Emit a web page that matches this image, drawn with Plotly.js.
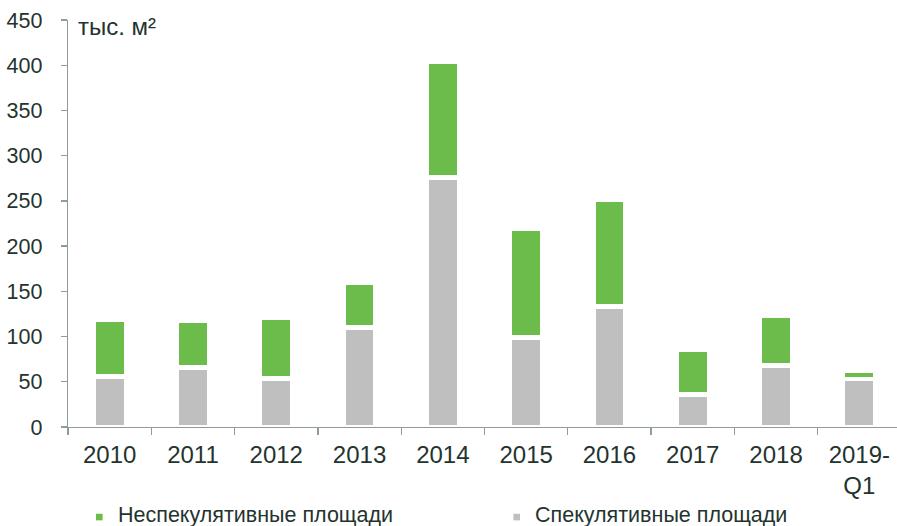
<!DOCTYPE html>
<html>
<head>
<meta charset="utf-8">
<script src="https://cdn.plot.ly/plotly-3.0.1.min.js"></script>
<style>
html, body { margin: 0; padding: 0; overflow: hidden; background: #fff; }
#chart { width: 897px; height: 526px; }
</style>
</head>
<body>
<div id="chart"></div>
<script>
// ---- data ----
var categories = ['2010', '2011', '2012', '2013', '2014', '2015', '2016', '2017', '2018', '2019-<br>Q1'];
var speculative = [55.7, 65.5, 53.7, 110.1, 275.9, 98.9, 133.3, 36.2, 67.9, 52.9];
var nonSpeculative = [63.4, 52.5, 67.2, 49.5, 127.9, 120.9, 117.8, 49.8, 55.7, 9.2];
var seriesNames = ['Неспекулятивные площади', 'Спекулятивные площади'];
var unitLabel = 'тыс. м²';
var yTicks = [0, 50, 100, 150, 200, 250, 300, 350, 400, 450];

// ---- style ----
var GREEN = '#6cbc4b';
var GRAY = '#bfbfbf';
var TEXT = '#24332e';
var AXIS = '#909c99';
var FONT = 'Liberation Sans, Arial, sans-serif';

var traces = [
  {
    type: 'bar', x: categories, y: speculative, name: seriesNames[1],
    marker: { color: GRAY, line: { color: '#ffffff', width: 4.6 } },
    showlegend: false, hoverinfo: 'skip'
  },
  {
    type: 'bar', x: categories, y: nonSpeculative, name: seriesNames[0],
    marker: { color: GREEN, line: { color: '#ffffff', width: 4.6 } },
    showlegend: false, hoverinfo: 'skip'
  }
];

var layout = {
  width: 897, height: 526,
  margin: { l: 68, r: 0, t: 20, b: 99, pad: 0 },
  paper_bgcolor: '#ffffff', plot_bgcolor: '#ffffff',
  barmode: 'stack',
  bargap: 0.61,
  font: { family: FONT, color: TEXT, size: 21 },
  xaxis: {
    type: 'category',
    range: [-0.5, 9.452],
    showline: true, linecolor: AXIS, linewidth: 1.3,
    ticks: 'outside', ticklen: 7, tickcolor: AXIS, tickwidth: 1.3,
    tickson: 'boundaries',
    showgrid: false, zeroline: false,
    tickfont: { family: FONT, color: TEXT, size: 24 },
    ticklabelstandoff: 6
  },
  yaxis: {
    range: [0, 450],
    tickvals: yTicks,
    showline: true, linecolor: AXIS, linewidth: 1.3,
    ticks: 'outside', ticklen: 6, tickcolor: AXIS, tickwidth: 1.3,
    showgrid: false, zeroline: false,
    tickfont: { family: FONT, color: TEXT, size: 21.5 },
    ticklabelstandoff: 14
  },
  shapes: [
    { type: 'rect', xref: 'paper', yref: 'paper',
      x0: (96 - 68) / 829, x1: (102.6 - 68) / 829,
      y0: (426.7 - 520) / 406.7, y1: (426.7 - 513.4) / 406.7,
      fillcolor: GREEN, line: { width: 0 } },
    { type: 'rect', xref: 'paper', yref: 'paper',
      x0: (513.4 - 68) / 829, x1: (520 - 68) / 829,
      y0: (426.7 - 520) / 406.7, y1: (426.7 - 513.4) / 406.7,
      fillcolor: GRAY, line: { width: 0 } }
  ],
  annotations: [
    { text: unitLabel, xref: 'paper', yref: 'paper',
      x: (76 - 68) / 829, y: (426.7 - 26) / 406.7,
      xanchor: 'left', yanchor: 'middle', showarrow: false,
      font: { family: FONT, color: TEXT, size: 24 } },
    { text: seriesNames[0], xref: 'paper', yref: 'paper',
      x: (116 - 68) / 829, y: (426.7 - 514.5) / 406.7,
      xanchor: 'left', yanchor: 'middle', showarrow: false,
      font: { family: FONT, color: TEXT, size: 21.5 } },
    { text: seriesNames[1], xref: 'paper', yref: 'paper',
      x: (533 - 68) / 829, y: (426.7 - 514.5) / 406.7,
      xanchor: 'left', yanchor: 'middle', showarrow: false,
      font: { family: FONT, color: TEXT, size: 21.5 } }
  ]
};

Plotly.newPlot('chart', traces, layout, { displayModeBar: false, staticPlot: true });
</script>
</body>
</html>
